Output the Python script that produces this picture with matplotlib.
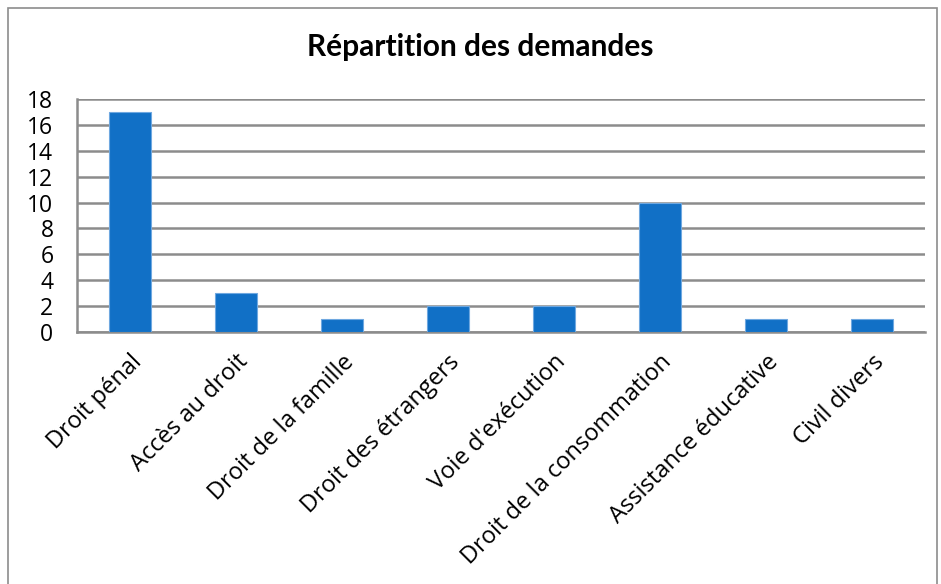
import matplotlib
matplotlib.use("Agg")
import matplotlib.pyplot as plt
from matplotlib.patches import Rectangle

categories = ["Droit pénal", "Accès au droit", "Droit de la famille", "Droit des étrangers",
              "Voie d'exécution", "Droit de la consommation", "Assistance éducative", "Civil divers"]
values = [17, 3, 1, 2, 2, 10, 1, 1]
yticks = [0, 2, 4, 6, 8, 10, 12, 14, 16, 18]
title = "Répartition des demandes"

plt.rcParams['font.family'] = ['Open Sans', 'DejaVu Sans']

W, H = 941, 584
fig = plt.figure(figsize=(W / 100, H / 100), dpi=100)
fig.patch.set_facecolor("white")

# figure border (chart area outline)
fig.add_artist(Rectangle((8 / W, -0.01), (937 - 8) / W, 1.01 - 8 / H, transform=fig.transFigure,
                         fill=False, edgecolor="#8C8C8C", linewidth=1.2))

left, right, top, bottom = 77, 925, 99, 332
ax = fig.add_axes([left / W, 1 - bottom / H, (right - left) / W, (bottom - top) / H])

x = list(range(len(categories)))
ax.bar(x, values, width=0.4, color="#1170C6", edgecolor="#6FA8E0", linewidth=0.8, zorder=3)
ax.set_xlim(-0.5, len(categories) - 0.5)
ax.set_ylim(0, 18)
ax.set_yticks(yticks)
ax.set_yticklabels([str(v) for v in yticks], fontsize=16.5)
ax.yaxis.grid(True, color="#8C8C8C", linewidth=1.8, zorder=0)
ax.set_axisbelow(True)
ax.tick_params(axis='both', length=0)
ax.tick_params(axis='y', pad=17)
ax.set_xticks(x)
ax.set_xticklabels(categories, rotation=45, ha='right', rotation_mode='anchor', fontsize=17)
ax.tick_params(axis='x', pad=13)
for s in ['top', 'right']:
    ax.spines[s].set_visible(False)
for s in ['left', 'bottom']:
    ax.spines[s].set_color("#8C8C8C")
    ax.spines[s].set_linewidth(1.8)

fig.text(480 / W, 1 - 47 / H, title, family=['Lato', 'DejaVu Sans'], ha='center', va='center',
         fontsize=21.5, fontweight='bold')

fig.savefig("out.png", dpi=100)
